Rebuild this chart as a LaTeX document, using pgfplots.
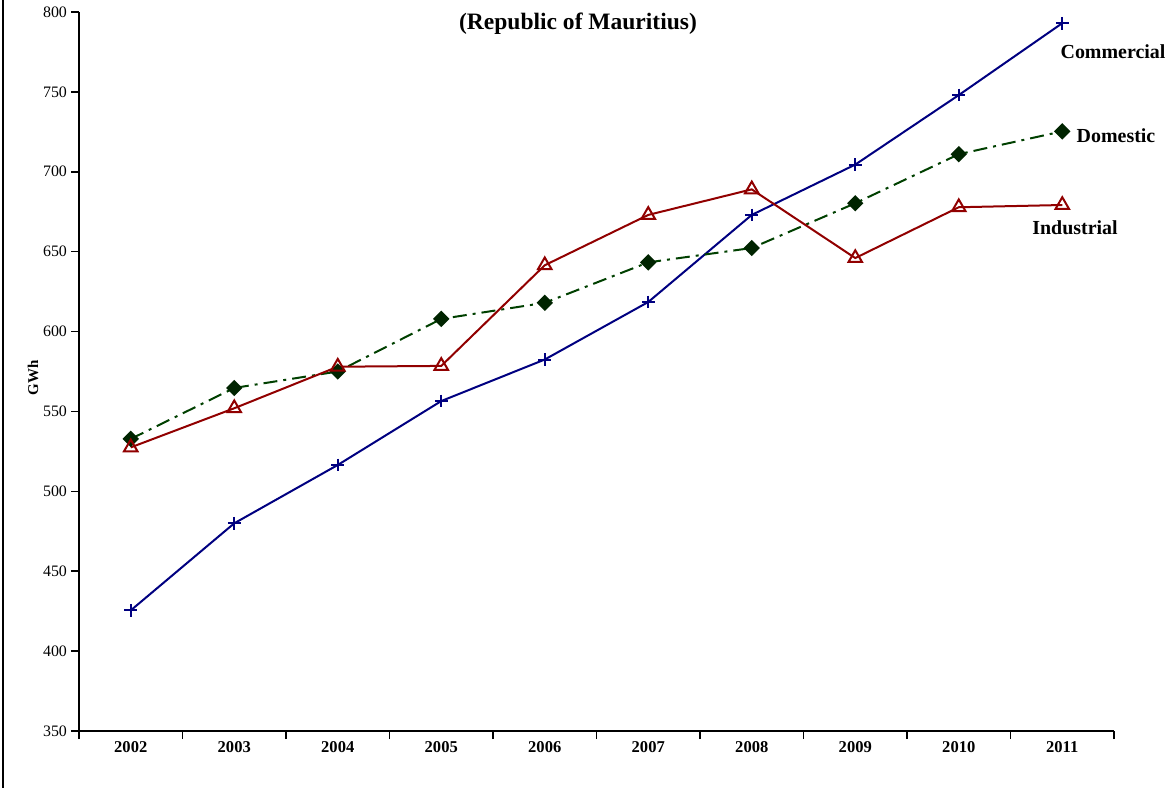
\documentclass[border=0pt]{standalone}
\usepackage{fontspec}
\setmainfont{Liberation Serif}
\usepackage{pgfplots}
\pgfplotsset{compat=1.18}
\definecolor{cblue}{RGB}{0,0,128}
\definecolor{cgreen}{RGB}{0,64,0}
\definecolor{cgreenfill}{RGB}{0,36,0}
\definecolor{cred}{RGB}{145,0,0}
\begin{document}
\begin{tikzpicture}[x=1bp,y=1bp]
\useasboundingbox (0,0) rectangle (587.5,393.5);
\draw[line width=1bp] (1.5,-1) -- (1.5,395);
\begin{axis}[
  at={(39.5bp,28bp)}, anchor=south west,
  width=517.5bp, height=359.5bp, scale only axis,
  xmin=-0.5, xmax=9.5, ymin=350, ymax=800,
  axis x line*=bottom, axis y line*=left,
  axis line style={line width=1.3bp},
  ytick={350,400,450,500,550,600,650,700,750,800},
  xtick={-0.5,0.5,1.5,2.5,3.5,4.5,5.5,6.5,7.5,8.5,9.5},
  xticklabels={2002,2003,2004,2005,2006,2007,2008,2009,2010,2011,{}},
  x tick label style={font=\fontsize{8.3}{9}\selectfont\bfseries, xshift=25.875bp, yshift=2.5bp},
  y tick label style={font=\fontsize{8}{9}\selectfont, xshift=1.5bp},
  tick align=outside,
  major tick length=4bp,
  tick style={line width=0.8bp, black},
  /pgf/number format/assume math mode=true,
  clip=false,
]
\addplot[cblue, line width=1bp, mark=+, mark size=3.2bp, mark options={line width=1bp}]
 coordinates {(0,425.5) (1,480) (2,516.5) (3,556.5) (4,582.5) (5,618.5) (6,673) (7,704.5) (8,748) (9,793)};
\addplot[cgreen, line width=1bp, dash pattern=on 7bp off 3bp on 1.5bp off 3bp,
  mark=square*, mark size=2.4bp, mark options={solid, rotate=45, fill=cgreenfill, draw=cgreenfill}]
 coordinates {(0,532.8) (1,564.7) (2,575) (3,607.9) (4,618) (5,643.3) (6,652.3) (7,680.3) (8,711) (9,725.3)};
\addplot[cred, line width=1bp, mark=triangle, mark size=3.9bp, mark options={solid, fill=white, line width=1bp}]
 coordinates {(0,527.5) (1,552) (2,578) (3,578.5) (4,641.5) (5,673) (6,689) (7,646) (8,677.8) (9,679.2)};
\end{axis}
\node[font=\bfseries\fontsize{11.8}{13}\selectfont] at (289,381.5) {(Republic of Mauritius)};
\node[font=\bfseries\fontsize{10}{12}\selectfont] at (556.5,367.5) {Commercial};
\node[font=\bfseries\fontsize{10}{12}\selectfont] at (558,325.5) {Domestic};
\node[font=\bfseries\fontsize{10}{12}\selectfont] at (537.5,279.5) {Industrial};
\node[rotate=90, font=\bfseries\fontsize{7.5}{9}\selectfont] at (16.5,204.5) {GWh};
\end{tikzpicture}
\end{document}
